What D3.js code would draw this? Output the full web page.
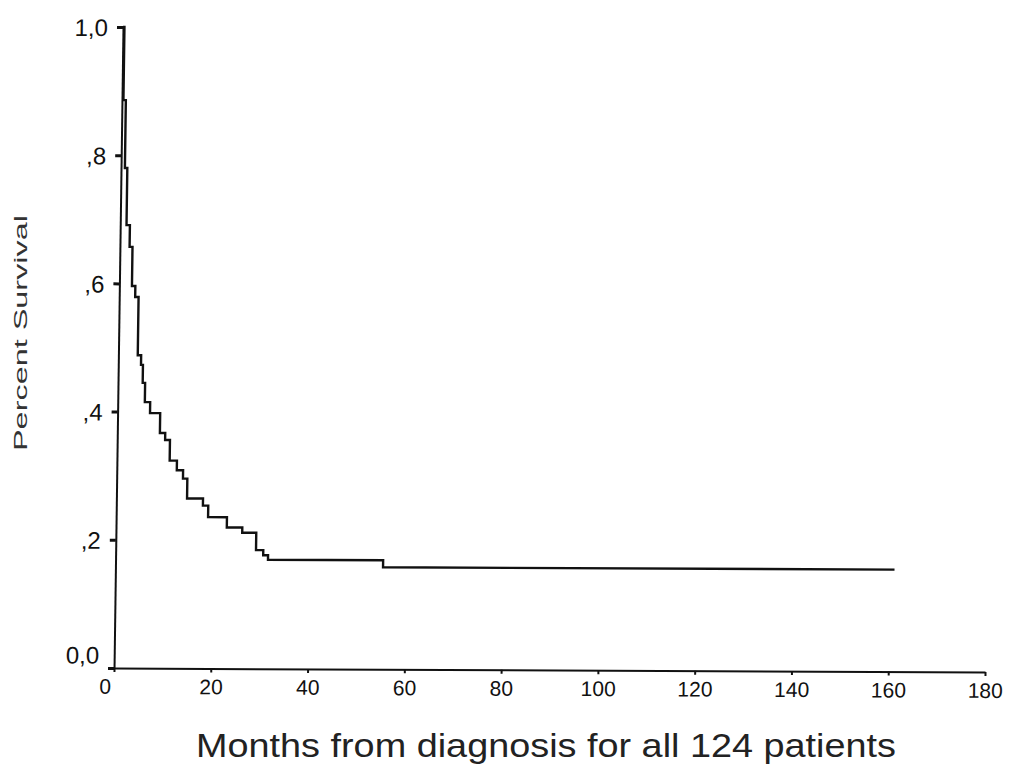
<!DOCTYPE html>
<html>
<head>
<meta charset="utf-8">
<script src="https://cdn.jsdelivr.net/npm/d3@7/dist/d3.min.js"></script>
<style>
  html, body { margin: 0; padding: 0; background: #fff; }
  svg { display: block; }
  .tick text { font-family: "Liberation Sans", Arial, sans-serif; fill: #111; }
</style>
</head>
<body>
<svg id="chart" width="1017" height="777"></svg>
<script>
// Kaplan-Meier survival estimate: time of each drop (months) and survival after it
const months   = [0, 0.3, 0.8, 1.3, 2.0, 2.6, 3.3, 4.0, 4.7, 5.1, 5.6, 6.7, 8.8, 9.9, 10.9, 12.4, 13.7, 14.6, 17.9, 19.0, 22.9, 26.1, 29.0, 30.5, 31.5, 55.3];
const survival = [1.0, 0.886, 0.780, 0.691, 0.657, 0.596, 0.579, 0.488, 0.473, 0.445, 0.415, 0.398, 0.367, 0.356, 0.324, 0.309, 0.296, 0.265, 0.254, 0.236, 0.220, 0.212, 0.185, 0.177, 0.170, 0.159];
const lastFollowUp = 161;

const xTicks = [0, 20, 40, 60, 80, 100, 120, 140, 160, 180];
const yTicks = [0, 0.2, 0.4, 0.6, 0.8, 1.0];
const yTickLabels = ["0,0", ",2", ",4", ",6", ",8", "1,0"];

const xTitle = "Months from diagnosis for all 124 patients";
const yTitle = "Percent Survival";

const W = 871, H = 641;
const svg = d3.select("#chart");

// plot group, slightly sheared like the printed page
const g = svg.append("g")
  .attr("transform", "translate(123,27) matrix(1,0.0046,-0.014,1,0,0)");

const x = d3.scaleLinear().domain([0, 180]).range([0, W]);
const y = d3.scaleLinear().domain([0, 1]).range([H, 0]);

// x axis
const xAxis = g.append("g")
  .attr("transform", `translate(0,${H})`)
  .call(d3.axisBottom(x).tickValues(xTicks).tickSize(4).tickSizeOuter(0).tickPadding(7));
xAxis.select(".domain").attr("stroke", "#111").attr("stroke-width", 2);
xAxis.selectAll(".tick line").attr("stroke", "#111").attr("stroke-width", 2);
xAxis.selectAll(".tick text").attr("font-size", 21).attr("dx", (d) => d === 0 ? -9 : 0);

// y axis
const yAxis = g.append("g")
  .call(d3.axisLeft(y).tickValues(yTicks).tickSize(6).tickSizeOuter(0).tickPadding(9)
    .tickFormat((d, i) => yTickLabels[i]));
yAxis.select(".domain").attr("stroke", "#111").attr("stroke-width", 2);
yAxis.selectAll(".tick line").attr("stroke", "#111").attr("stroke-width", 3);
yAxis.selectAll(".tick text").attr("font-size", 24)
  .attr("dy", (d) => d === 0 ? "-0.2em" : "0.36em");

// survival step curve
const pts = months.map((m, i) => [m, survival[i]]);
pts.push([lastFollowUp, survival[survival.length - 1]]);
const line = d3.line()
  .x((d) => x(d[0]))
  .y((d) => y(d[1]))
  .curve(d3.curveStepAfter);

g.append("path")
  .datum(pts)
  .attr("fill", "none")
  .attr("stroke", "#111")
  .attr("stroke-width", 2.4)
  .attr("d", line);

// titles
svg.append("text")
  .attr("x", 546).attr("y", 757)
  .attr("text-anchor", "middle")
  .attr("font-family", "'Liberation Sans', Arial, sans-serif")
  .attr("font-size", 33)
  .attr("fill", "#222")
  .attr("textLength", 700)
  .attr("lengthAdjust", "spacingAndGlyphs")
  .text(xTitle);

svg.append("text")
  .attr("transform", "translate(27,333) rotate(-90)")
  .attr("text-anchor", "middle")
  .attr("font-family", "'Liberation Sans', Arial, sans-serif")
  .attr("font-size", 19)
  .attr("fill", "#333")
  .attr("textLength", 236)
  .attr("lengthAdjust", "spacingAndGlyphs")
  .text(yTitle);
</script>
</body>
</html>
